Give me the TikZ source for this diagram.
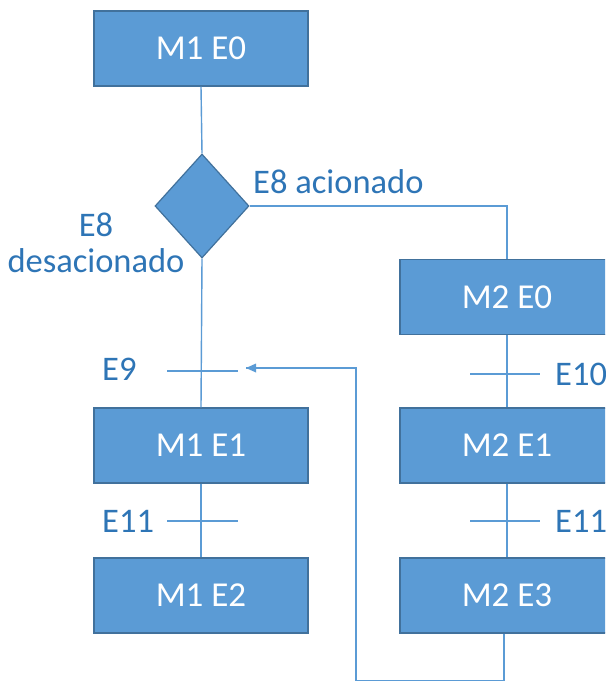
\documentclass[tikz,border=0pt]{standalone}
\usepackage{fontspec}
\setmainfont{Carlito}
\usetikzlibrary{shapes.geometric,arrows.meta}
\definecolor{boxfill}{HTML}{5B9BD5}
\definecolor{boxedge}{HTML}{41719C}
\definecolor{wire}{HTML}{5B9BD5}
\definecolor{labelblue}{HTML}{2E75B6}
\tikzset{
  stepbox/.style={rectangle, fill=boxfill, draw=boxedge, line width=1.2pt,
    minimum width=214pt, minimum height=75pt, inner sep=0pt,
    text=white, font=\fontsize{35}{42}\selectfont},
  choice/.style={diamond, fill=boxfill, draw=boxedge, line width=1.2pt,
    minimum width=94pt, minimum height=104pt, inner sep=0pt},
  wireline/.style={draw=wire, line width=1.4pt},
  tick/.style={draw=wire, line width=1.4pt},
  lbl/.style={text=labelblue, font=\fontsize{34.5}{41}\selectfont, inner sep=0pt}
}
\begin{document}
\begin{tikzpicture}[x=1pt,y=-1pt]
  \clip (0,0) rectangle (605,682);
  \fill[white] (0,0) rectangle (605,682);

  % steps
  \node[stepbox] (m1e0) at (201,48.5) {M1 E0};
  \node[choice]  (d)    at (202,206) {};
  \node[stepbox] (m2e0) at (507,297) {M2 E0};
  \node[stepbox] (m1e1) at (201,445.5) {M1 E1};
  \node[stepbox] (m2e1) at (507,445.5) {M2 E1};
  \node[stepbox] (m1e2) at (201,595.5) {M1 E2};
  \node[stepbox] (m2e3) at (507,595.5) {M2 E3};

  % helper points for the return path and the transition bars
  \coordinate (back1) at (504,680.5);
  \coordinate (back2) at (356,680.5);
  \coordinate (back3) at (356,368);
  \coordinate (tip)   at (246,368);
  \coordinate (t9a)  at (167,371);  \coordinate (t9b)  at (238,371);
  \coordinate (t11a) at (167,521);  \coordinate (t11b) at (238,521);
  \coordinate (t10a) at (470,374);  \coordinate (t10b) at (540,374);
  \coordinate (t12a) at (470,521);  \coordinate (t12b) at (540,521);

  % connectors
  \draw[wireline] (m1e0.south) -- (d.north);
  \draw[wireline] (d.south) -- (m1e1.north);
  \draw[wireline] (d.east) -| (m2e0.north);
  \draw[wireline] (m2e0.south) -- (m2e1.north);
  \draw[wireline] (m1e1.south) -- (m1e2.north);
  \draw[wireline] (m2e1.south) -- (m2e3.north);
  \draw[wireline] (m2e3.south -| back1) -- (back1) -- (back2) -- (back3)
    -- (tip);
  \fill[wire] (tip) -- ++(10,-4.5) -- ++(0,9) -- cycle;

  % transition bars
  \draw[tick] (t9a) -- (t9b);
  \draw[tick] (t11a) -- (t11b);
  \draw[tick] (t10a) -- (t10b);
  \draw[tick] (t12a) -- (t12b);

  % labels
  \node[lbl, anchor=base west] (la) at (253,193) {E8 acionado};
  \node[lbl, anchor=base] (lb1) at (96,236) {E8};
  \node[lbl, anchor=base] (lb2) at (96,272) {desacionado};
  \node[lbl, anchor=west] (l9) at (102,369) {E9};
  \node[lbl, anchor=west] (l11) at (102,521) {E11};
  \node[lbl, anchor=west] (l10) at (555,374) {E10};
  \node[lbl, anchor=west] (l12) at (555,521) {E11};
\end{tikzpicture}
\end{document}
